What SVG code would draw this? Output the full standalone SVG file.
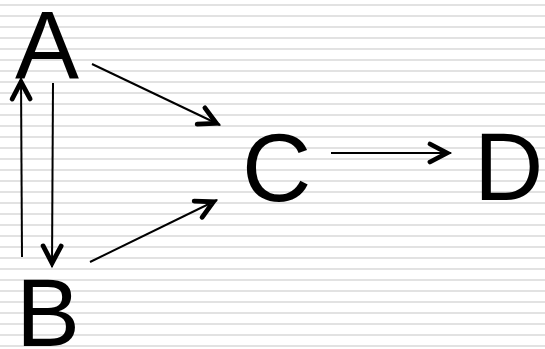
<svg xmlns="http://www.w3.org/2000/svg" width="545" height="349" viewBox="0 0 545 349">
  <defs>
    <!-- ruled-paper backdrop: thin grey rule every 11px -->
    <pattern id="rules" patternUnits="userSpaceOnUse" x="0" y="0" width="20" height="11">
      <rect x="0" y="4" width="20" height="2" fill="#e2e2e2"/>
    </pattern>
    <!-- open V arrowhead -->
    <marker id="arrow" markerUnits="userSpaceOnUse" viewBox="-30 -15 40 30" markerWidth="40" markerHeight="30" refX="4" refY="0" orient="auto">
      <path d="M-17,-9 L0,0 L-17,9" fill="none" stroke="#000" stroke-width="4.8" stroke-linecap="round" stroke-linejoin="miter"/>
    </marker>
    <style>
      .label { font-family: "Liberation Sans", Arial, sans-serif; font-size: 96px; fill: #000; }
      .edge { stroke: #000; stroke-width: 2; fill: none; marker-end: url(#arrow); }
    </style>
  </defs>

  <rect x="0" y="0" width="545" height="349" fill="#fff"/>
  <rect x="0" y="0" width="545" height="349" fill="url(#rules)"/>

  <g id="edges">
    <line class="edge" x1="92" y1="64" x2="220" y2="125"/>
    <line class="edge" x1="90" y1="262" x2="217" y2="200"/>
    <line class="edge" x1="53" y1="83" x2="52" y2="267"/>
    <line class="edge" x1="22" y1="257" x2="21" y2="78"/>
    <line class="edge" x1="331" y1="153" x2="451" y2="153"/>
  </g>

  <g id="node-A"><text class="label" x="15" y="78">A</text></g>
  <g id="node-B"><text class="label" x="16" y="346">B</text></g>
  <g id="node-C"><text class="label" x="242" y="201">C</text></g>
  <g id="node-D"><text class="label" x="474" y="200">D</text></g>
</svg>
